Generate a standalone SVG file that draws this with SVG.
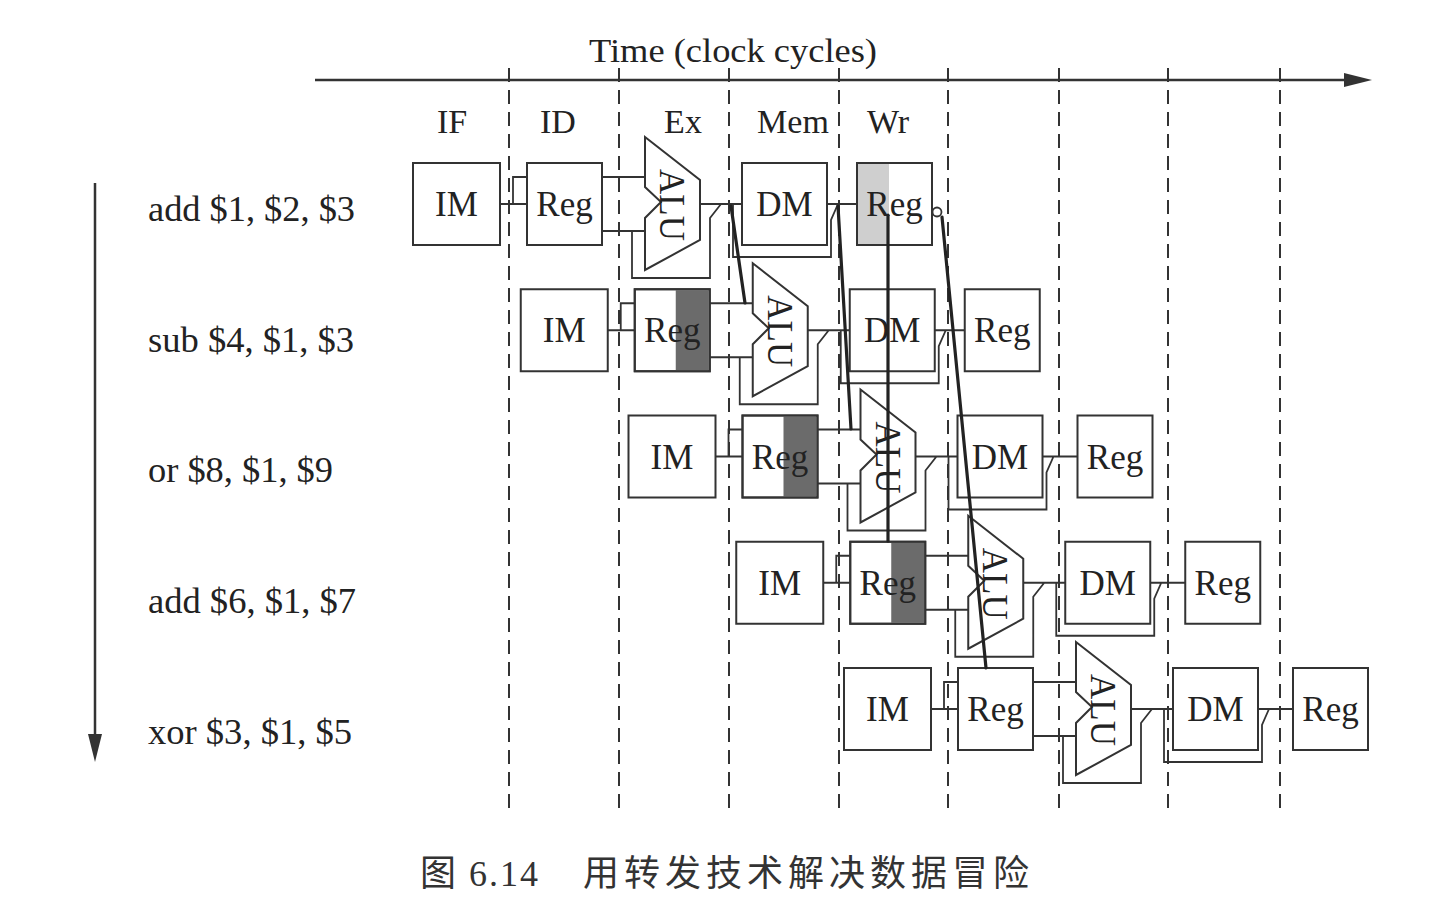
<svg xmlns="http://www.w3.org/2000/svg" width="1432" height="921" viewBox="0 0 1432 921">
<style>
.bg{fill:#fff}
.box{fill:#fff;stroke:#333;stroke-width:2}
.ol{fill:none;stroke:#333;stroke-width:2}
.dk{fill:#6b6b6b}
.lt{fill:#cfcfcf}
.w{fill:none;stroke:#333;stroke-width:1.8}
.fw{fill:none;stroke:#222;stroke-width:3.2;stroke-linecap:round}
.dash{stroke:#333;stroke-width:2;stroke-dasharray:14 8}
.t{font-family:"Liberation Serif","Times New Roman",serif;font-size:35px;fill:#222;text-anchor:middle}
.lab{font-family:"Liberation Serif","Times New Roman",serif;font-size:35px;fill:#222}
.st{font-family:"Liberation Serif","Times New Roman",serif;font-size:34px;fill:#222;text-anchor:middle}
.cap{font-family:"Liberation Serif","Noto Sans CJK SC",serif;font-size:36px;fill:#333}
</style>
<rect class="bg" x="0" y="0" width="1432" height="921"/>

<g id="axes">
  <text class="st" x="733" y="62" font-size="36" textLength="288" lengthAdjust="spacingAndGlyphs">Time (clock cycles)</text>
  <line x1="315" y1="80" x2="1350" y2="80" stroke="#333" stroke-width="2.5"/>
  <polygon points="1344,73 1344,87 1372,80" fill="#333"/>
  <line x1="95" y1="183" x2="95" y2="738" stroke="#333" stroke-width="2.5"/>
  <polygon points="88,734 102,734 95,762" fill="#333"/>
  <g id="clock-lines">
    <line class="dash" x1="509" y1="68" x2="509" y2="812"/>
    <line class="dash" x1="619" y1="68" x2="619" y2="812"/>
    <line class="dash" x1="729" y1="68" x2="729" y2="812"/>
    <line class="dash" x1="839" y1="68" x2="839" y2="812"/>
    <line class="dash" x1="948" y1="68" x2="948" y2="812"/>
    <line class="dash" x1="1059" y1="68" x2="1059" y2="812"/>
    <line class="dash" x1="1168" y1="68" x2="1168" y2="812"/>
    <line class="dash" x1="1280" y1="68" x2="1280" y2="812"/>
  </g>
  <text class="st" x="452" y="133">IF</text>
  <text class="st" x="558" y="133">ID</text>
  <text class="st" x="683" y="133">Ex</text>
  <text class="st" x="793" y="133">Mem</text>
  <text class="st" x="888" y="133">Wr</text>
</g>

<g id="labels">
  <text class="lab" x="148" y="221" textLength="207" lengthAdjust="spacingAndGlyphs">add $1, $2, $3</text>
  <text class="lab" x="148" y="352" textLength="206" lengthAdjust="spacingAndGlyphs">sub $4, $1, $3</text>
  <text class="lab" x="148" y="482" textLength="185" lengthAdjust="spacingAndGlyphs">or $8, $1, $9</text>
  <text class="lab" x="148" y="613" textLength="208" lengthAdjust="spacingAndGlyphs">add $6, $1, $7</text>
  <text class="lab" x="148" y="744" textLength="204" lengthAdjust="spacingAndGlyphs">xor $3, $1, $5</text>
</g>

<g id="connectors">
  <g transform="translate(0,0)">
    <path class="w" d="M500,204H527M513,204V177H527M602,177H645M602,231H645M632,231V278H710V218L721,204M700,204H742M733,204V257H831V220L838,204M827,204H857"/>
  </g>
  <g transform="translate(107.75,126.25)">
    <path class="w" d="M500,204H527M513,204V177H527M602,177H645M602,231H645M632,231V278H710V218L721,204M700,204H742M733,204V257H831V220L838,204M827,204H857"/>
  </g>
  <g transform="translate(215.5,252.5)">
    <path class="w" d="M500,204H527M513,204V177H527M602,177H645M602,231H645M632,231V278H710V218L721,204M700,204H742M733,204V257H831V220L838,204M827,204H862"/>
  </g>
  <g transform="translate(323.25,378.75)">
    <path class="w" d="M500,204H527M513,204V177H527M602,177H645M602,231H645M632,231V278H710V218L721,204M700,204H742M733,204V257H831V220L838,204M827,204H862"/>
  </g>
  <g transform="translate(431,505)">
    <path class="w" d="M500,204H527M513,204V177H527M602,177H645M602,231H645M632,231V278H710V218L721,204M700,204H742M733,204V257H831V220L838,204M827,204H862"/>
  </g>
</g>

<!-- Row 1 -->
<g transform="translate(0,0)">
  <g id="r1-im"><rect class="box" x="413" y="163" width="87" height="82"/><text class="t" x="456.5" y="216">IM</text></g>
  <g id="r1-reg"><rect class="box" x="527" y="163" width="75" height="82"/><text class="t" x="564.5" y="216">Reg</text></g>
  <g id="r1-alu"><polygon class="box" points="645,137 700,180 700,240 645,270 645,218 661,202 645,187"/><text class="t" transform="translate(672,205) rotate(90)" y="12">ALU</text></g>
  <g id="r1-dm"><rect class="box" x="742" y="163" width="85" height="82"/><text class="t" x="784.5" y="216">DM</text></g>
  <g id="r1-wb"><rect class="box" x="857" y="163" width="75" height="82"/><rect class="lt" x="858" y="164" width="31" height="80"/><rect class="ol" x="857" y="163" width="75" height="82"/><text class="t" x="894.5" y="216">Reg</text><circle cx="937" cy="212" r="4.5" fill="#fff" stroke="#333" stroke-width="1.8"/></g>
</g>

<!-- Row 2 -->
<g transform="translate(107.75,126.25)">
  <g id="r2-im"><rect class="box" x="413" y="163" width="87" height="82"/><text class="t" x="456.5" y="216">IM</text></g>
  <g id="r2-reg"><rect class="box" x="527" y="163" width="75" height="82"/><rect class="dk" x="568" y="164" width="33" height="80"/><rect class="ol" x="527" y="163" width="75" height="82"/><text class="t" x="564.5" y="216">Reg</text></g>
  <g id="r2-alu"><polygon class="box" points="645,137 700,180 700,240 645,270 645,218 661,202 645,187"/><text class="t" transform="translate(672,205) rotate(90)" y="12">ALU</text></g>
  <g id="r2-dm"><rect class="box" x="742" y="163" width="85" height="82"/><text class="t" x="784.5" y="216">DM</text></g>
  <g id="r2-wb"><rect class="box" x="857" y="163" width="75" height="82"/><text class="t" x="894.5" y="216">Reg</text></g>
</g>

<!-- Row 3 -->
<g transform="translate(215.5,252.5)">
  <g id="r3-im"><rect class="box" x="413" y="163" width="87" height="82"/><text class="t" x="456.5" y="216">IM</text></g>
  <g id="r3-reg"><rect class="box" x="527" y="163" width="75" height="82"/><rect class="dk" x="568" y="164" width="33" height="80"/><rect class="ol" x="527" y="163" width="75" height="82"/><text class="t" x="564.5" y="216">Reg</text></g>
  <g id="r3-alu"><polygon class="box" points="645,137 700,180 700,240 645,270 645,218 661,202 645,187"/><text class="t" transform="translate(672,205) rotate(90)" y="12">ALU</text></g>
  <g id="r3-dm"><rect class="box" x="742" y="163" width="85" height="82"/><text class="t" x="784.5" y="216">DM</text></g>
  <g id="r3-wb"><rect class="box" x="862" y="163" width="75" height="82"/><text class="t" x="899.5" y="216">Reg</text></g>
</g>

<!-- Row 4 -->
<g transform="translate(323.25,378.75)">
  <g id="r4-im"><rect class="box" x="413" y="163" width="87" height="82"/><text class="t" x="456.5" y="216">IM</text></g>
  <g id="r4-reg"><rect class="box" x="527" y="163" width="75" height="82"/><rect class="dk" x="568" y="164" width="33" height="80"/><rect class="ol" x="527" y="163" width="75" height="82"/><text class="t" x="564.5" y="216">Reg</text></g>
  <g id="r4-alu"><polygon class="box" points="645,137 700,180 700,240 645,270 645,218 661,202 645,187"/><text class="t" transform="translate(672,205) rotate(90)" y="12">ALU</text></g>
  <g id="r4-dm"><rect class="box" x="742" y="163" width="85" height="82"/><text class="t" x="784.5" y="216">DM</text></g>
  <g id="r4-wb"><rect class="box" x="862" y="163" width="75" height="82"/><text class="t" x="899.5" y="216">Reg</text></g>
</g>

<!-- Row 5 -->
<g transform="translate(431,505)">
  <g id="r5-im"><rect class="box" x="413" y="163" width="87" height="82"/><text class="t" x="456.5" y="216">IM</text></g>
  <g id="r5-reg"><rect class="box" x="527" y="163" width="75" height="82"/><text class="t" x="564.5" y="216">Reg</text></g>
  <g id="r5-alu"><polygon class="box" points="645,137 700,180 700,240 645,270 645,218 661,202 645,187"/><text class="t" transform="translate(672,205) rotate(90)" y="12">ALU</text></g>
  <g id="r5-dm"><rect class="box" x="742" y="163" width="85" height="82"/><text class="t" x="784.5" y="216">DM</text></g>
  <g id="r5-wb"><rect class="box" x="862" y="163" width="75" height="82"/><text class="t" x="899.5" y="216">Reg</text></g>
</g>

<g id="forwarding">
  <path class="fw" d="M731,206L745,303"/>
  <path class="fw" d="M838,206L851,429"/>
  <path class="fw" d="M888,215V541"/>
  <path class="fw" d="M942,217L986,668"/>
</g>

<g id="caption">
  <text class="cap" y="886"><tspan x="420" letter-spacing="2">图 6.14</tspan><tspan x="583" letter-spacing="5">用转发技术解决数据冒险</tspan></text>
</g>
</svg>
